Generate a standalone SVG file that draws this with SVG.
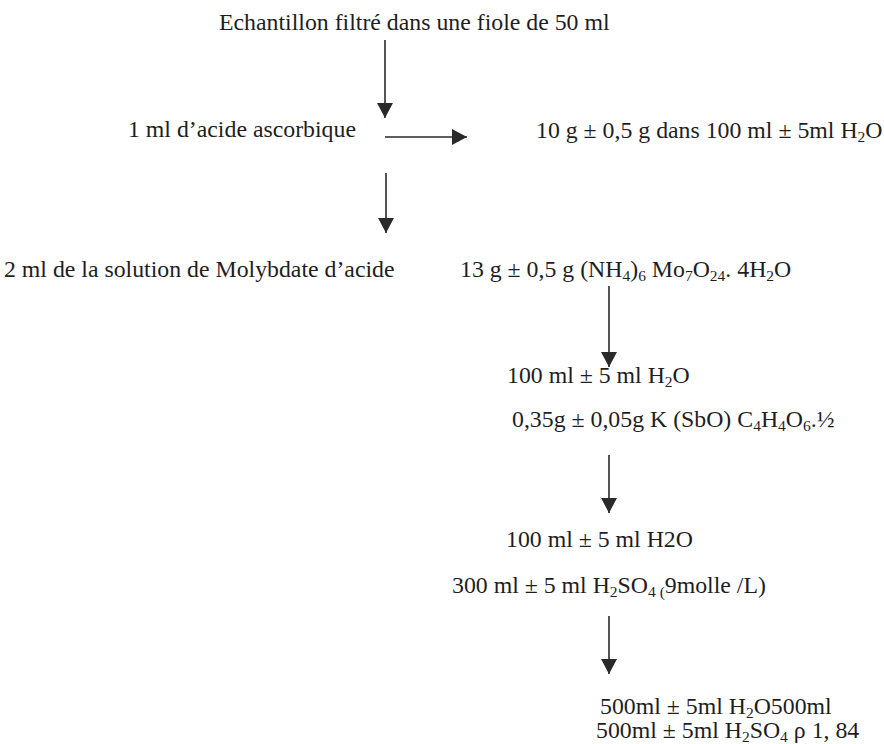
<svg xmlns="http://www.w3.org/2000/svg" width="884" height="744" viewBox="0 0 884 744">
<defs>
<style>
text{font-family:'Liberation Serif','Times New Roman',serif;font-size:23.8px;fill:#1e1e1e}
.sub{font-size:15.5px}
.conn line{stroke:#2a2a2a;stroke-width:1.6;fill:none}
</style>
<marker id="ah" markerUnits="userSpaceOnUse" viewBox="0 0 15 16" refX="15" refY="8" markerWidth="15" markerHeight="16" orient="auto">
<path d="M0,0 L15,8 L0,16 z" fill="#2a2a2a"/>
</marker>
</defs>
<rect width="884" height="744" fill="#ffffff"/>
<g id="n1"><text x="219" y="30">Echantillon filtré dans une fiole de 50 ml</text></g>
<g id="n2"><text x="128" y="137">1 ml d’acide ascorbique</text></g>
<g id="n3"><text x="536" y="138">10 g ± 0,5 g dans 100 ml ± 5ml H<tspan class="sub" dy="4">2</tspan><tspan dy="-4">O</tspan></text></g>
<g id="n4"><text x="4" y="277">2 ml de la solution de Molybdate d’acide</text></g>
<g id="n5"><text x="460" y="277">13 g ± 0,5 g (NH<tspan class="sub" dy="4">4</tspan><tspan dy="-4">)</tspan><tspan class="sub" dy="4">6</tspan><tspan dy="-4"> Mo</tspan><tspan class="sub" dy="4">7</tspan><tspan dy="-4">O</tspan><tspan class="sub" dy="4">24</tspan><tspan dy="-4">. 4H</tspan><tspan class="sub" dy="4">2</tspan><tspan dy="-4">O</tspan></text></g>
<g id="n6"><text x="507" y="383">100 ml ± 5 ml H<tspan class="sub" dy="4">2</tspan><tspan dy="-4">O</tspan></text></g>
<g id="n7"><text x="512" y="427">0,35g ± 0,05g K (SbO) C<tspan class="sub" dy="4">4</tspan><tspan dy="-4">H</tspan><tspan class="sub" dy="4">4</tspan><tspan dy="-4">O</tspan><tspan class="sub" dy="4">6</tspan><tspan dy="-4">.½</tspan></text></g>
<g id="n8"><text x="506" y="547">100 ml ± 5 ml H2O</text></g>
<g id="n9"><text x="452" y="593">300 ml ± 5 ml H<tspan class="sub" dy="4">2</tspan><tspan dy="-4">SO</tspan><tspan class="sub" dy="4">4 (</tspan><tspan dy="-4">9molle /L)</tspan></text></g>
<g id="n10"><text x="600" y="714">500ml ± 5ml H<tspan class="sub" dy="4">2</tspan><tspan dy="-4">O500ml</tspan></text>
<text x="596" y="738">500ml ± 5ml H<tspan class="sub" dy="4">2</tspan><tspan dy="-4">SO</tspan><tspan class="sub" dy="4">4</tspan><tspan dy="-4"> ρ 1, 84</tspan></text></g>
<g id="connectors" class="conn">
<line x1="385" y1="40" x2="385" y2="118" marker-end="url(#ah)"/>
<line x1="385" y1="137" x2="467" y2="137" marker-end="url(#ah)"/>
<line x1="386" y1="173" x2="386" y2="233" marker-end="url(#ah)"/>
<line x1="609" y1="286" x2="609" y2="367" marker-end="url(#ah)"/>
<line x1="609" y1="455" x2="609" y2="513" marker-end="url(#ah)"/>
<line x1="609" y1="616" x2="609" y2="674" marker-end="url(#ah)"/>
</g>
</svg>
